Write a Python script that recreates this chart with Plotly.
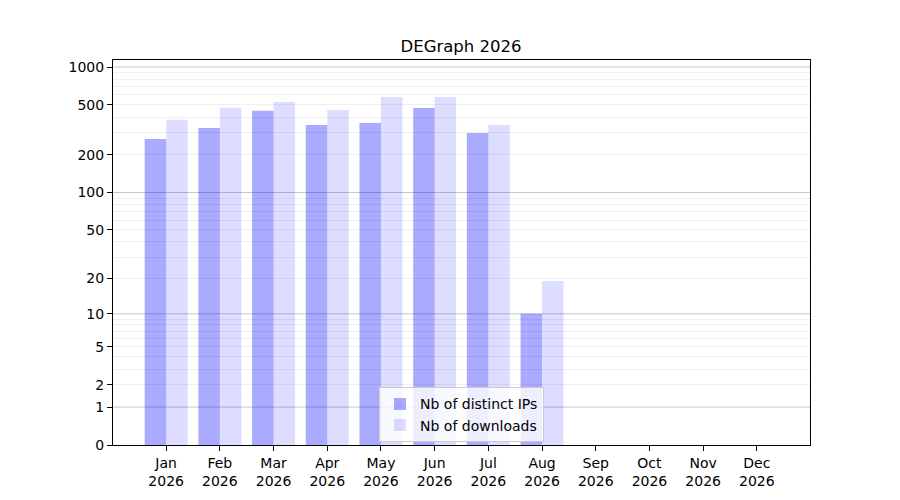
import plotly.graph_objects as go

# monthly stats, 2026
MONTHS = ["Jan", "Feb", "Mar", "Apr", "May", "Jun",
          "Jul", "Aug", "Sep", "Oct", "Nov", "Dec"]
YEAR = "2026"
DISTINCT_IPS = [268, 328, 448, 346, 359, 473, 298, 10, 0, 0, 0, 0]
DOWNLOADS = [380, 473, 528, 455, 577, 577, 346, 19, 0, 0, 0, 0]

Y_TICKS = [0, 1, 2, 5, 10, 20, 50, 100, 200, 500, 1000]
Y_MAJOR_GRID = [1, 10, 100, 1000]
Y_MINOR_GRID = [m * d for d in (1, 10, 100) for m in range(2, 10)]

FONT = "DejaVu Sans"


def shift(values):
    # log(1 + x) scale: plot 1 + value on a log axis, label with value
    return [v + 1 for v in values]


def main() -> None:
    x = list(range(len(MONTHS)))

    fig = go.Figure()
    fig.add_bar(
        x=x, y=shift(DISTINCT_IPS), name="Nb of distinct IPs",
        marker=dict(color="rgba(0,0,255,0.333)", line=dict(width=0)),
    )
    fig.add_bar(
        x=x, y=shift(DOWNLOADS), name="Nb of downloads",
        marker=dict(color="rgba(0,0,255,0.133)", line=dict(width=0)),
    )

    # major (decade) grid lines drawn as shapes, minor through the axis grid
    for v in Y_MAJOR_GRID:
        fig.add_shape(
            type="line", xref="paper", x0=0, x1=1, yref="y", y0=v + 1, y1=v + 1,
            line=dict(color="rgba(128,128,128,0.45)", width=1), layer="below",
        )

    # page body adds ~8px offset, so margins are shifted to compensate
    fig.update_layout(
        width=900, height=500,
        paper_bgcolor="white", plot_bgcolor="white",
        margin=dict(l=105, r=98, t=52, b=63),
        font=dict(family=FONT, size=14, color="black"),
        title=dict(text="DEGraph 2026", x=(461 - 8) / 900, xanchor="center",
                   y=1 - 38 / 500, yanchor="middle",
                   font=dict(family=FONT, size=16.5, color="black")),
        barmode="group", bargap=0.2, bargroupgap=0,
        showlegend=True,
        legend=dict(
            x=0.5, xanchor="center", y=0.007, yanchor="bottom",
            bgcolor="rgba(255,255,255,0.8)", bordercolor="#cccccc", borderwidth=1,
            font=dict(family=FONT, size=14), tracegroupgap=0,
        ),
    )
    fig.update_xaxes(
        range=[-0.99, 11.99],
        tickvals=x, ticktext=[f"{m}<br>{YEAR}" for m in MONTHS],
        ticks="outside", ticklen=5, tickcolor="black",
        showgrid=False, zeroline=False,
        showline=True, linecolor="black", linewidth=1, mirror=True,
    )
    fig.update_yaxes(
        type="log", range=[0, 3.056],
        tickvals=shift(Y_TICKS), ticktext=[str(v) for v in Y_TICKS],
        ticks="outside", ticklen=5, tickcolor="black",
        showgrid=False, zeroline=False,
        showline=True, linecolor="black", linewidth=1, mirror=True,
        minor=dict(tickvals=shift(Y_MINOR_GRID), showgrid=True,
                   gridcolor="rgba(128,128,128,0.13)", gridwidth=1, ticks=""),
    )

    fig.write_html("out.html")


if __name__ == "__main__":
    main()
